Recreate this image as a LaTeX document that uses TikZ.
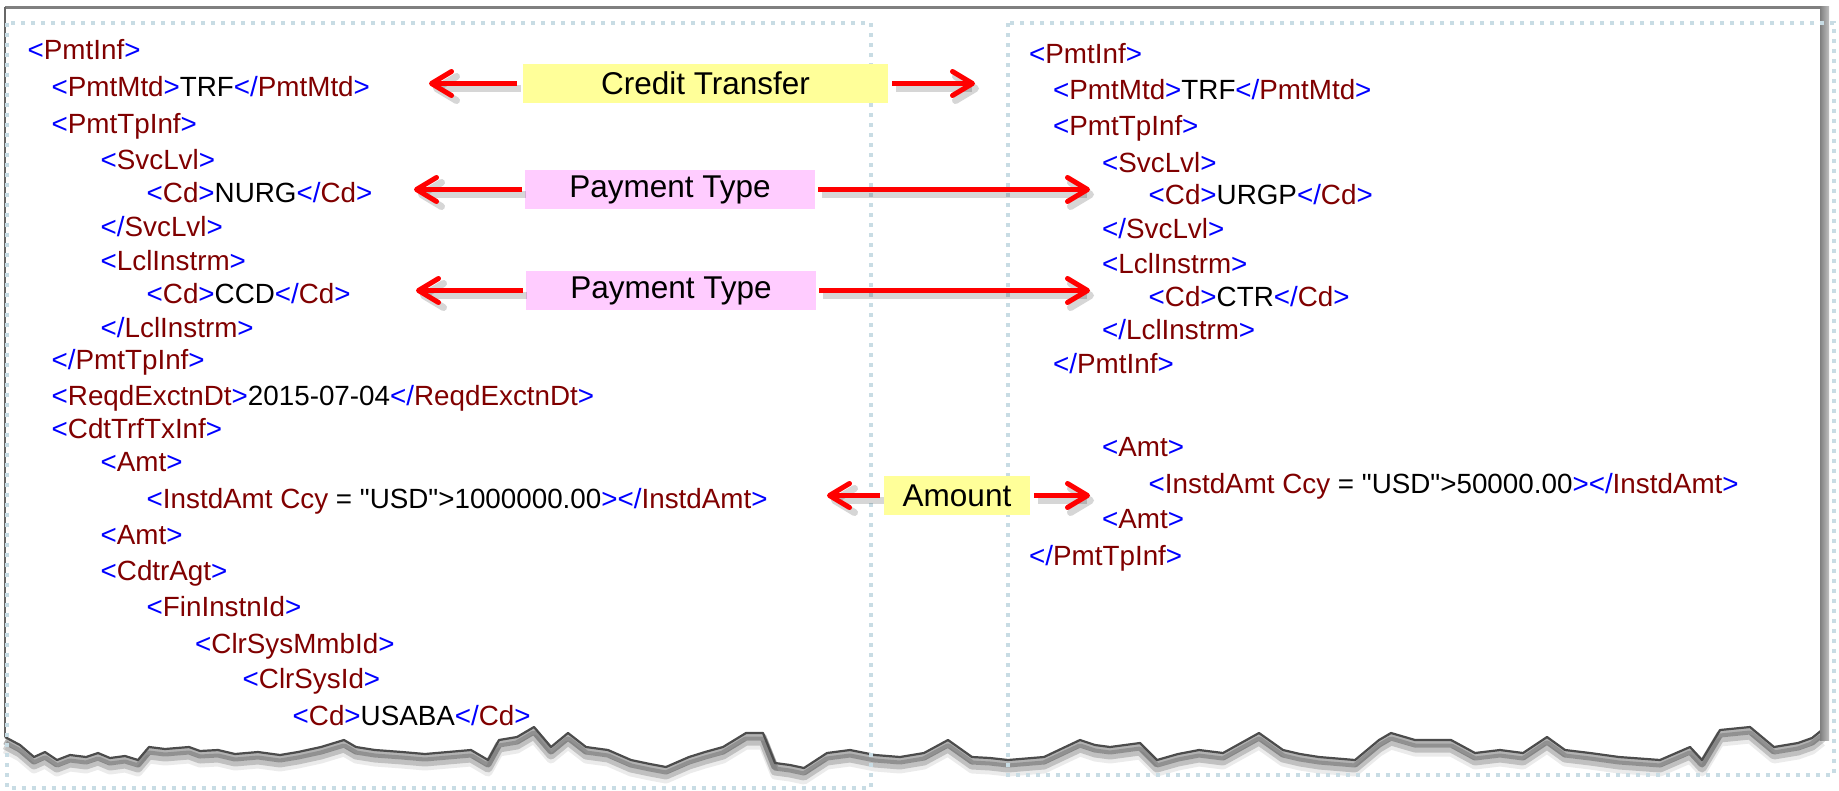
\documentclass[tikz,border=0pt]{standalone}
\usepackage{fontspec}
\setmainfont{Liberation Sans}
\newfontfamily\xf{Liberation Sans}
\usetikzlibrary{arrows.meta}

\definecolor{tb}{RGB}{0,0,255}
\definecolor{tr}{RGB}{128,0,0}
\definecolor{dotc}{RGB}{200,220,228}
\definecolor{lyel}{RGB}{255,255,153}
\definecolor{lpink}{RGB}{255,204,255}
\definecolor{framegray}{RGB}{128,128,128}

\newcommand{\xmlo}[1]{\textcolor{tb}{<}\textcolor{tr}{#1}\textcolor{tb}{>}}
\newcommand{\xmlc}[1]{\textcolor{tb}{</}\textcolor{tr}{#1}\textcolor{tb}{>}}

\tikzset{
  xml/.style={anchor=base west, inner sep=0pt, font=\xf\fontsize{27.8}{30}\selectfont},
  lbl/.style={inner sep=0pt, font=\xf\fontsize{31.5}{34}\selectfont, text=black, minimum height=39pt},
  ybox/.style={lbl, fill=lyel},
  pbox/.style={lbl, fill=lpink},
  redarr/.style={draw=red, line width=5pt, -{Straight Barb[length=20pt,width=24pt,round]}},
  arrshadow/.style={draw=black, opacity=0.16, line width=7pt, -{Straight Barb[length=20pt,width=24pt,round]}},
  dotbox/.style={draw=dotc, line width=3.5pt, dash pattern=on 4pt off 6pt},
}

\begin{document}
\begin{tikzpicture}[x=1pt,y=-1pt]
\useasboundingbox (0,0) rectangle (1839,790);
\fill[white] (0,0) rectangle (1839,790);

% torn edge
\path[save path=\tearp] (5,737) -- (20,745) -- (34,757) -- (45,752) -- (57,760) -- (70,755) -- (86,757) -- (98,753) -- (110,758) -- (125,756) -- (138,760) -- (149,747) -- (165,749) -- (189,747) -- (200,751) -- (218,750) -- (235,754) -- (258,752) -- (280,755) -- (298,752) -- (321,747) -- (344,740) -- (356,747) -- (375,750) -- (402,752) -- (425,754) -- (448,752) -- (471,750) -- (488,760) -- (499,740) -- (517,737) -- (534,727) -- (551,747) -- (568,733) -- (586,747) -- (608,750) -- (631,760) -- (650,764) -- (666,767) -- (689,757) -- (705,752) -- (723,747) -- (746,733) -- (763,733) -- (775,763) -- (790,765) -- (804,768) -- (827,753) -- (850,750) -- (875,755) -- (900,757) -- (924,753) -- (948,740) -- (972,757) -- (990,758) -- (1008,760) -- (1044,757) -- (1080,740) -- (1095,745) -- (1110,747) -- (1140,743) -- (1157,760) -- (1178,754) -- (1199,750) -- (1223,753) -- (1259,733) -- (1283,750) -- (1300,754) -- (1319,757) -- (1355,760) -- (1379,740) -- (1391,733) -- (1415,740) -- (1451,740) -- (1475,753) -- (1500,750) -- (1523,753) -- (1547,737) -- (1565,750) -- (1590,753) -- (1619,757) -- (1660,760) -- (1690,747) -- (1702,760) -- (1720,730) -- (1750,727) -- (1774,747) -- (1798,743) -- (1812,738) -- (1822,730);
\begin{scope}[transform canvas={shift={(0pt,-12pt)}}]
  \draw[use path=\tearp, black, opacity=0.08, line width=9pt, line join=round];
\end{scope}
\begin{scope}[transform canvas={shift={(0pt,-8pt)}}]
  \draw[use path=\tearp, black, opacity=0.18, line width=9pt, line join=round];
\end{scope}
\begin{scope}[transform canvas={shift={(0pt,-4pt)}}]
  \draw[use path=\tearp, black, opacity=0.3, line width=7pt, line join=round];
\end{scope}
\draw[use path=\tearp, black!70, line width=2.2pt, line join=round];

% frame
\draw[framegray, line width=3pt] (5,7) coordinate (ftl) -- (1820,7) coordinate (ftr);
\draw[framegray!80!black, line width=2pt] (ftl) -- (5,737);
\shade[left color=gray, middle color=black!75, right color=gray!50] (1820,6) rectangle (1829,740);

% dotted panels
\draw[dotbox] (7,23) rectangle (871,788);
\draw[dotbox] (1008,23) rectangle (1834,775);

% left panel
\node[xml] (l1)  at (27.5,59)  {\xmlo{PmtInf}};
\node[xml] (l2)  at (51.5,96)  {\xmlo{PmtMtd}TRF\xmlc{PmtMtd}};
\node[xml] (l3)  at (51.5,133) {\xmlo{PmtTpInf}};
\node[xml] (l4)  at (100.5,169) {\xmlo{SvcLvl}};
\node[xml] (l5)  at (146.5,202) {\xmlo{Cd}NURG\xmlc{Cd}};
\node[xml] (l6)  at (100.5,236) {\xmlc{SvcLvl}};
\node[xml] (l7)  at (100.5,270) {\xmlo{LclInstrm}};
\node[xml] (l8)  at (146.5,303) {\xmlo{Cd}CCD\xmlc{Cd}};
\node[xml] (l9)  at (100.5,337) {\xmlc{LclInstrm}};
\node[xml] (l10) at (51.5,369) {\xmlc{PmtTpInf}};
\node[xml] (l11) at (51.5,405) {\xmlo{ReqdExctnDt}2015-07-04\xmlc{ReqdExctnDt}};
\node[xml] (l12) at (51.5,438) {\xmlo{CdtTrfTxInf}};
\node[xml] (l13) at (100.5,471) {\xmlo{Amt}};
\node[xml] (l14) at (146.5,508) {\textcolor{tb}{<}\textcolor{tr}{InstdAmt Ccy} = "USD">1000000.00\textcolor{tb}{></}\textcolor{tr}{InstdAmt}\textcolor{tb}{>}};
\node[xml] (l15) at (100.5,544) {\xmlo{Amt}};
\node[xml] (l16) at (100.5,580) {\xmlo{CdtrAgt}};
\node[xml] (l17) at (146.5,616) {\xmlo{FinInstnId}};
\node[xml] (l18) at (195,653) {\xmlo{ClrSysMmbId}};
\node[xml] (l19) at (242.5,688) {\xmlo{ClrSysId}};
\node[xml] (l20) at (292.5,725) {\xmlo{Cd}USABA\xmlc{Cd}};

% right panel
\node[xml] (r1)  at (1029,63)   {\xmlo{PmtInf}};
\node[xml] (r2)  at (1053,99)   {\xmlo{PmtMtd}TRF\xmlc{PmtMtd}};
\node[xml] (r3)  at (1053,135)  {\xmlo{PmtTpInf}};
\node[xml] (r4)  at (1102,172)  {\xmlo{SvcLvl}};
\node[xml] (r5)  at (1148.5,204) {\xmlo{Cd}URGP\xmlc{Cd}};
\node[xml] (r6)  at (1102,238)  {\xmlc{SvcLvl}};
\node[xml] (r7)  at (1102,273)  {\xmlo{LclInstrm}};
\node[xml] (r8)  at (1148.5,306) {\xmlo{Cd}CTR\xmlc{Cd}};
\node[xml] (r9)  at (1102,339)  {\xmlc{LclInstrm}};
\node[xml] (r10) at (1053,373)  {\xmlc{PmtInf}};
\node[xml] (r11) at (1102,456)  {\xmlo{Amt}};
\node[xml] (r12) at (1148.5,493) {\textcolor{tb}{<}\textcolor{tr}{InstdAmt Ccy} = "USD">50000.00\textcolor{tb}{></}\textcolor{tr}{InstdAmt}\textcolor{tb}{>}};
\node[xml] (r13) at (1102,528)  {\xmlo{Amt}};
\node[xml] (r14) at (1029,565)  {\xmlc{PmtTpInf}};

% labels
\node[ybox, minimum width=365pt] (ct) at (705.5,83.5) {Credit Transfer};
\node[pbox, minimum width=290pt] (p1) at (670,189.5) {Payment Type};
\node[pbox, minimum width=290pt] (p2) at (671,290.5) {Payment Type};
\node[ybox, minimum width=146pt] (am) at (957,495.5) {Amount};

% arrow tips
\coordinate (ctL) at (429,83.5);
\coordinate (ctR) at (975,83.5);
\coordinate (p1L) at (414,189.5);
\coordinate (p1R) at (1090,189.5);
\coordinate (p2L) at (416,290.5);
\coordinate (p2R) at (1090,290.5);
\coordinate (amL) at (827,495.5);
\coordinate (amR) at (1090,495.5);

% arrow shadows
\begin{scope}[transform canvas={shift={(4pt,-5pt)}}]
  \draw[arrshadow] ([xshift=-6pt]ct.west) -- (ctL);
  \draw[arrshadow] ([xshift=4pt]ct.east) -- (ctR);
  \draw[arrshadow] ([xshift=-3pt]p1.west) -- (p1L);
  \draw[arrshadow] ([xshift=3pt]p1.east) -- (p1R);
  \draw[arrshadow] ([xshift=-3pt]p2.west) -- (p2L);
  \draw[arrshadow] ([xshift=3pt]p2.east) -- (p2R);
  \draw[arrshadow] ([xshift=-4pt]am.west) -- (amL);
  \draw[arrshadow] ([xshift=4pt]am.east) -- (amR);
\end{scope}

% arrows
\draw[redarr] ([xshift=-6pt]ct.west) -- (ctL);
\draw[redarr] ([xshift=4pt]ct.east) -- (ctR);
\draw[redarr] ([xshift=-3pt]p1.west) -- (p1L);
\draw[redarr] ([xshift=3pt]p1.east) -- (p1R);
\draw[redarr] ([xshift=-3pt]p2.west) -- (p2L);
\draw[redarr] ([xshift=3pt]p2.east) -- (p2R);
\draw[redarr] ([xshift=-4pt]am.west) -- (amL);
\draw[redarr] ([xshift=4pt]am.east) -- (amR);
\end{tikzpicture}
\end{document}
